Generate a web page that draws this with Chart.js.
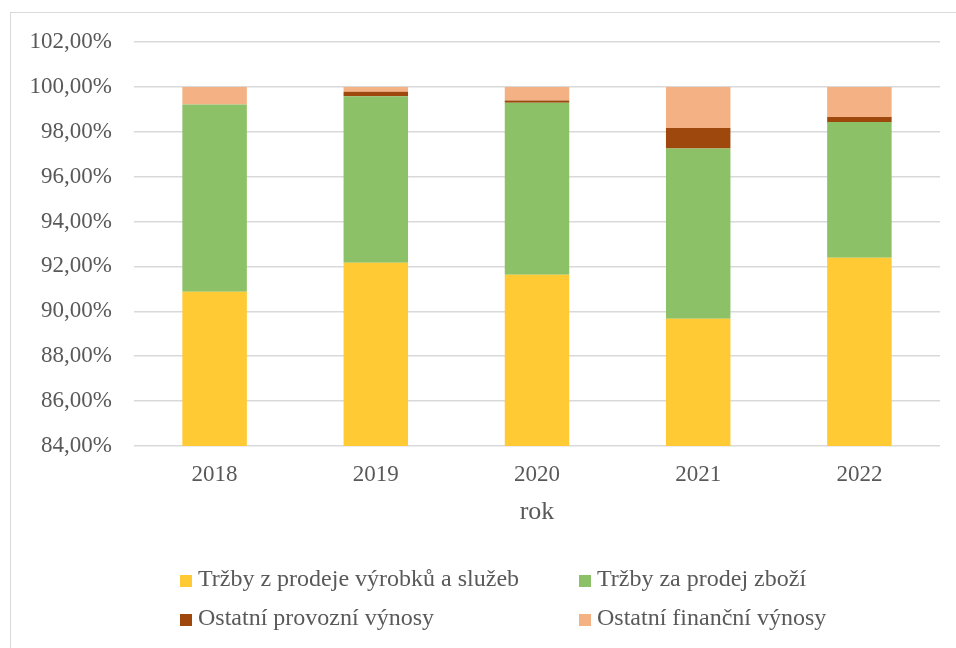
<!DOCTYPE html>
<html>
<head>
<meta charset="utf-8">
<script src="https://cdn.jsdelivr.net/npm/chart.js@4/dist/chart.umd.min.js"></script>
<style>
    body { margin: 0; background: #fff; }
    #wrap { position: relative; width: 956px; height: 648px; overflow: hidden; }
    #frame { position: absolute; left: 10px; top: 12px; width: 1000px; height: 700px; border-left: 1px solid #d9d9d9; border-top: 1px solid #d9d9d9; }
    #chart { position: absolute; left: 0; top: 0; }
    .legend-item { position: absolute; font-family: 'Liberation Serif', serif; font-size: 24px; color: #595959; white-space: nowrap; line-height: 24px; }
    .legend-item span { display: inline-block; width: 12px; height: 12px; margin-right: 6px; vertical-align: -1px; }
</style>
</head>
<body>
<div id="wrap">
    <div id="frame"></div>
    <canvas id="chart" width="956" height="648"></canvas>
</div>
<script>
// Data (shares of revenue, %)
const years = ['2018', '2019', '2020', '2021', '2022'];
const seriesNames = [
    'Tržby z prodeje výrobků a služeb',
    'Tržby za prodej zboží',
    'Ostatní provozní výnosy',
    'Ostatní finanční výnosy'
];
const salesProducts = [90.87, 92.17, 91.63, 89.67, 92.39];
const salesGoods = [8.34, 7.41, 7.66, 7.58, 6.05];
const otherOperating = [0.00, 0.20, 0.10, 0.92, 0.22];
const otherFinancial = [0.79, 0.22, 0.61, 1.83, 1.34];
const seriesColors = ['#ffca33', '#8cc168', '#9e480e', '#f4b183'];

const yMin = 84;
const yMax = 102;
const yStep = 2;

const fontFamily = "'Liberation Serif', serif";
const textColor = '#595959';

const seriesValues = [salesProducts, salesGoods, otherOperating, otherFinancial];

const ctx = document.getElementById('chart').getContext('2d');
new Chart(ctx, {
    type: 'bar',
    data: {
        labels: years,
        datasets: seriesNames.map((name, i) => ({
            label: name,
            data: seriesValues[i],
            backgroundColor: seriesColors[i],
            borderWidth: 0,
            barPercentage: 0.8,
            categoryPercentage: 0.5
        }))
    },
    options: {
        responsive: false,
        animation: false,
        layout: {
            padding: { left: 0, right: 16, top: 42, bottom: 117 }
        },
        plugins: {
            legend: { display: false },
            tooltip: { enabled: false }
        },
        scales: {
            x: {
                stacked: true,
                grid: { display: false },
                border: { display: false },
                ticks: {
                    color: textColor,
                    padding: 7,
                    font: { family: fontFamily, size: 23 }
                },
                title: {
                    display: true,
                    text: 'rok',
                    color: textColor,
                    padding: { top: 0, bottom: 3 },
                    font: { family: fontFamily, size: 26 }
                },
                afterFit: function(scale) { scale.height = 85; }
            },
            y: {
                stacked: true,
                min: yMin,
                max: yMax,
                grid: { color: '#d9d9d9', lineWidth: 1.5, drawTicks: false },
                border: { display: false },
                ticks: {
                    stepSize: yStep,
                    color: textColor,
                    padding: 22,
                    font: { family: fontFamily, size: 23 },
                    callback: function(value) {
                        return value.toFixed(2).replace('.', ',') + '%';
                    }
                },
                afterFit: function(scale) { scale.width = 134; }
            }
        }
    }
});

// Legend laid out in two columns, like the reference
const legendCols = [180, 579];
const legendRows = [578, 617];
const wrap = document.getElementById('wrap');
seriesNames.forEach((name, i) => {
    const item = document.createElement('div');
    item.className = 'legend-item';
    item.style.left = legendCols[i % 2] + 'px';
    item.style.top = (legendRows[Math.floor(i / 2)] - 12) + 'px';
    const box = document.createElement('span');
    box.style.background = seriesColors[i];
    item.appendChild(box);
    item.appendChild(document.createTextNode(name));
    wrap.appendChild(item);
});
</script>
</body>
</html>
